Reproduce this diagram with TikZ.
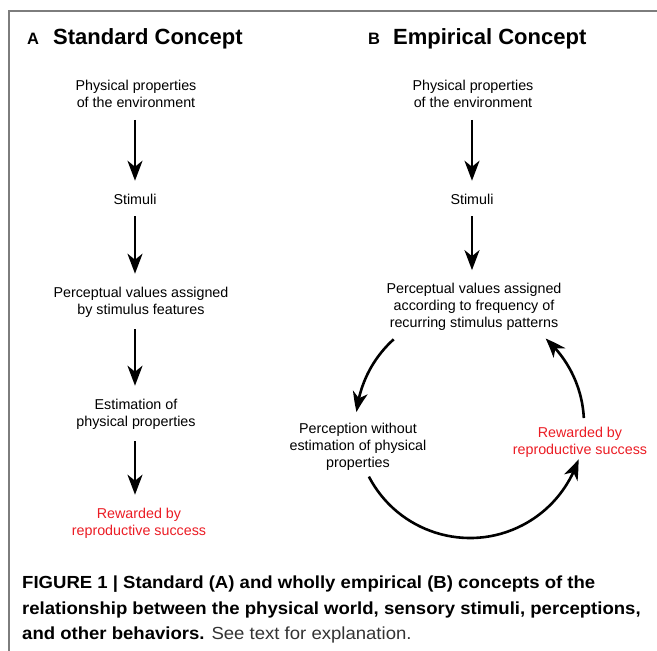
\documentclass[tikz,border=0pt]{standalone}
\usepackage{fontspec}
\setmainfont{Liberation Sans}
\newfontfamily\capfont[FakeStretch=1.06]{Liberation Sans}
\usetikzlibrary{arrows.meta,bending}
\definecolor{redtxt}{RGB}{235,28,36}
\definecolor{framegray}{RGB}{125,125,125}
\begin{document}
\begin{tikzpicture}[x=1pt,y=-1pt,
  lbl/.style={font=\fontsize{14.3}{17.2}\selectfont, align=center, inner sep=0pt, outer sep=0pt},
  redlbl/.style={lbl, text=redtxt},
  arr/.style={line width=2.6pt, shorten <=12pt, shorten >=13pt, -{Stealth[length=20pt,width=15pt,inset=6pt]}},
  circarr/.style={line width=2.6pt, -{Stealth[length=20pt,width=15pt,inset=6pt,bend]}},
  ttl/.style={font=\fontsize{22}{26}\selectfont\bfseries, anchor=base west, inner sep=0pt},
  ltr/.style={font=\fontsize{16.5}{19}\selectfont\bfseries, anchor=base west, inner sep=0pt},
  captext/.style={font=\capfont\fontsize{17.5}{21}\selectfont, anchor=base west, inner sep=0pt}]
\useasboundingbox (0,0) rectangle (657,651);
\draw[framegray, line width=1.5pt] (657,11) -- (9,11) -- (9,651);

% titles
\node[ltr] (la) at (27,44.5) {A};
\node[ttl] (ta) at (53,44.5) {Standard Concept};
\node[ltr] (lb) at (368,44.5) {B};
\node[ttl] (tb) at (393,44.5) {Empirical Concept};

% column A
\node[lbl] (pa) at (136,94) {Physical properties\\of the environment};
\node[lbl] (sa) at (135,199) {Stimuli};
\node[lbl] (pva) at (141,302) {Perceptual values assigned\\by stimulus features};
\node[lbl] (ea) at (136,414) {Estimation of\\physical properties};
\node[redlbl] (ra) at (139,523) {Rewarded by\\reproductive success};

\draw[arr] (sa.north |- pa.south) -- (sa.north);
\draw[arr] (sa.south) -- (sa.south |- pva.north);
\draw[arr] (sa.south |- pva.south) -- (sa.south |- ea.north);
\draw[arr] (sa.south |- ea.south) -- (sa.south |- ra.north);

% column B
\node[lbl] (pb) at (473,94) {Physical properties\\of the environment};
\node[lbl] (sb) at (472,199) {Stimuli};
\node[lbl] (pvb) at (474,307) {Perceptual values assigned\\according to frequency of\\recurring stimulus patterns};
\node[lbl] (peb) at (358,447) {Perception without\\estimation of physical\\properties};
\node[redlbl] (rb) at (580,442) {Rewarded by\\reproductive success};

\draw[arr] (sb.north |- pb.south) -- (sb.north);
\draw[arr] (sb.south) -- (sb.south |- pvb.north);

\coordinate (cc) at (470,424);
\draw[circarr] ([shift={(-132:114)}]cc) arc[start angle=-132, end angle=-174, radius=114];
\draw[circarr] ([shift={(-207.5:114)}]cc) arc[start angle=-207.5, end angle=-342, radius=114];
\draw[circarr] ([shift={(-3:114)}]cc) arc[start angle=-3, end angle=-48.5, radius=114];

% caption
\node[captext] (c1) at (22,588) {\bfseries FIGURE 1 | Standard (A) and wholly empirical (B) concepts of the};
\node[captext] (c2) at (22,614) {\bfseries relationship between the physical world, sensory stimuli, perceptions,};
\node[captext] (c3) at (22,639) {\textbf{and other behaviors.} \textcolor{black!80}{See text for explanation.}};
\end{tikzpicture}
\end{document}
